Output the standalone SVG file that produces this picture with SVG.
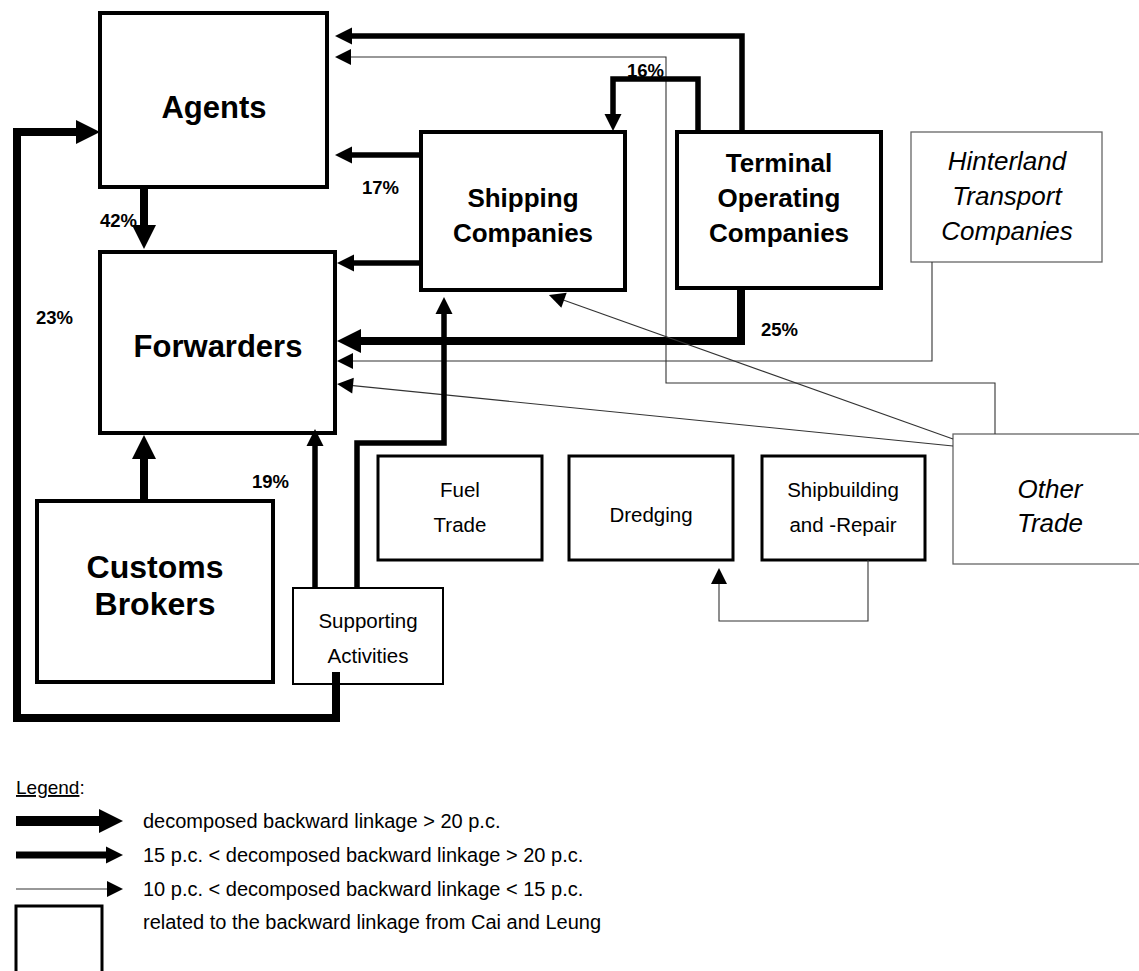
<svg xmlns="http://www.w3.org/2000/svg" width="1139" height="971" viewBox="0 0 1139 971">
<style>
text{font-family:"Liberation Sans",Arial,sans-serif;fill:#000}
.big{font-size:31px;font-weight:bold;text-anchor:middle}
.mid{font-size:26px;font-weight:bold;text-anchor:middle}
.it{font-size:26px;font-style:italic;text-anchor:middle}
.sm{font-size:20.5px;text-anchor:middle}
.pc{font-size:18.5px;font-weight:bold}
.lg{font-size:20px}
.box{fill:#fff;stroke:#000;stroke-width:4}
.box3{fill:#fff;stroke:#000;stroke-width:3}
.box2{fill:#fff;stroke:#000;stroke-width:2}
.gbox{fill:#fff;stroke:#666;stroke-width:1.3}
.c{fill:none;stroke:#000;stroke-linejoin:miter;stroke-linecap:butt}
.thick{stroke-width:8}
.med{stroke-width:5.5}
.thin{stroke:#333;stroke-width:1.1}
</style>
<defs>
<marker id="hb" markerUnits="userSpaceOnUse" markerWidth="25" markerHeight="25" refX="0" refY="12" orient="auto" overflow="visible"><path d="M0,0 L24,12 L0,24 z" fill="#000"/></marker>
<marker id="hm" markerUnits="userSpaceOnUse" markerWidth="18" markerHeight="18" refX="0" refY="8.5" orient="auto" overflow="visible"><path d="M0,0 L17,8.5 L0,17 z" fill="#000"/></marker>
<marker id="ht" markerUnits="userSpaceOnUse" markerWidth="17" markerHeight="17" refX="0" refY="8" orient="auto" overflow="visible"><path d="M0,0 L16,8 L0,16 z" fill="#000"/></marker>
</defs>
<rect width="1139" height="971" fill="#fff"/>

<g id="agents"><rect class="box" x="100" y="13" width="227" height="174"/><text class="big" x="214" y="118">Agents</text></g>
<g id="forwarders"><rect class="box" x="100" y="252" width="235" height="181"/><text class="big" x="218" y="357">Forwarders</text></g>
<g id="shipping"><rect class="box" x="421" y="132" width="204" height="158"/><text class="mid" x="523" y="207">Shipping</text><text class="mid" x="523" y="242">Companies</text></g>
<g id="terminal"><rect class="box" x="677" y="132" width="204" height="156"/><text class="mid" x="779" y="172">Terminal</text><text class="mid" x="779" y="207">Operating</text><text class="mid" x="779" y="242">Companies</text></g>
<g id="hinterland"><rect class="gbox" x="911" y="132" width="191" height="130"/><text class="it" x="1007" y="170">Hinterland</text><text class="it" x="1007" y="205">Transport</text><text class="it" x="1007" y="240">Companies</text></g>
<g id="fuel"><rect class="box3" x="378" y="456" width="164" height="104"/><text class="sm" x="460" y="497">Fuel</text><text class="sm" x="460" y="532">Trade</text></g>
<g id="dredging"><rect class="box3" x="569" y="456" width="164" height="104"/><text class="sm" x="651" y="522">Dredging</text></g>
<g id="shipbuilding"><rect class="box3" x="762" y="456" width="163" height="104"/><text class="sm" x="843" y="497">Shipbuilding</text><text class="sm" x="843" y="532">and -Repair</text></g>
<g id="other"><rect class="gbox" x="953" y="434" width="190" height="130"/><text class="it" x="1050" y="498">Other</text><text class="it" x="1050" y="532">Trade</text></g>
<g id="customs"><rect class="box" x="37" y="501" width="236" height="181"/><text class="big" style="font-size:32px" x="155" y="578">Customs</text><text class="big" style="font-size:32px" x="155" y="615">Brokers</text></g>
<g id="supporting"><rect class="box2" x="293" y="588" width="150" height="96"/><text class="sm" x="368" y="628">Supporting</text><text class="sm" x="368" y="663">Activities</text></g>

<g id="connectors">
<path class="c med" d="M742,132 V36 H352" marker-end="url(#hm)"/>
<path class="c thin" d="M995,434 V383 H666 V57 H351" marker-end="url(#ht)"/>
<path class="c med" d="M698,132 V79 H613 V114" marker-end="url(#hm)"/>
<path class="c med" d="M421,155 H352" marker-end="url(#hm)"/>
<path class="c med" d="M421,263 H354" marker-end="url(#hm)"/>
<path class="c thick" d="M741,288 V341 H361" marker-end="url(#hb)"/>
<path class="c thin" d="M932,262 V361 H353" marker-end="url(#ht)"/>
<path class="c thin" d="M953,446 L353,385.6" marker-end="url(#ht)"/>
<path class="c thin" d="M953,439 L564,300.3" marker-end="url(#ht)"/>
<path class="c thick" d="M144,501 V459" marker-end="url(#hb)"/>
<path class="c thick" d="M144,187 V225" marker-end="url(#hb)"/>
<path class="c thick" d="M336,672 V718 H17 V132 H76" marker-end="url(#hb)"/>
<path class="c med" d="M315,588 V446" marker-end="url(#hm)"/>
<path class="c med" d="M357,588 V443 H444 V314" marker-end="url(#hm)"/>
<path class="c thin" d="M868,560 V621 H719 V584" marker-end="url(#ht)"/>
</g>

<g id="labels">
<text class="pc" x="100" y="227">42%</text>
<text class="pc" x="362" y="194">17%</text>
<text class="pc" x="627" y="77">16%</text>
<text class="pc" x="761" y="336">25%</text>
<text class="pc" x="36" y="324">23%</text>
<text class="pc" x="252" y="488">19%</text>
</g>

<g id="legend">
<text class="lg" style="font-size:19px" x="16" y="794"><tspan text-decoration="underline">Legend</tspan>:</text>
<path class="c" style="stroke-width:10" d="M16,821 H99" marker-end="url(#hb)"/>
<text class="lg" x="143" y="828">decomposed backward linkage &gt; 20 p.c.</text>
<path class="c" style="stroke-width:7" d="M16,855 H106" marker-end="url(#hm)"/>
<text class="lg" x="143" y="862">15 p.c. &lt; decomposed backward linkage &gt; 20 p.c.</text>
<path class="c thin" d="M16,889 H107" marker-end="url(#ht)"/>
<text class="lg" x="143" y="896">10 p.c. &lt; decomposed backward linkage &lt; 15 p.c.</text>
<rect class="box3" x="16" y="906" width="86" height="70"/>
<text class="lg" x="143" y="929">related to the backward linkage from Cai and Leung</text>
</g>
</svg>
